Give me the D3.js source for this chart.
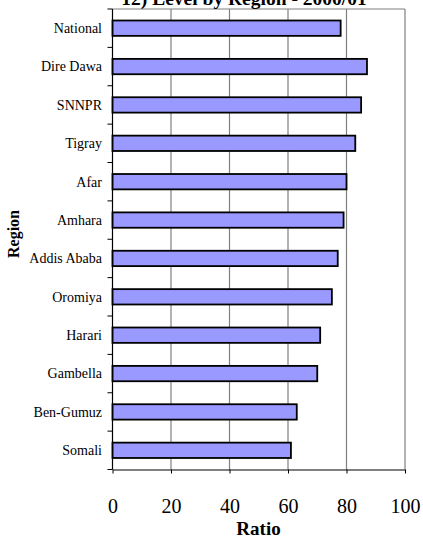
<!DOCTYPE html>
<html>
<head>
<meta charset="utf-8">
<script src="https://cdn.jsdelivr.net/npm/d3@7"></script>
<style>
  html, body { margin: 0; padding: 0; background: #fff; }
  svg { display: block; }
  svg text { font-family: "Liberation Serif", "Times New Roman", serif; }
</style>
</head>
<body>
<svg id="chart" width="423" height="538"></svg>
<script>
// Regions, top to bottom
const regions = ["National", "Dire Dawa", "SNNPR", "Tigray", "Afar", "Amhara",
  "Addis Ababa", "Oromiya", "Harari", "Gambella", "Ben-Gumuz", "Somali"];
// Ratio per region
const ratios = [78, 87, 85, 83, 80, 79, 77, 75, 71, 70, 63, 61];
// Value axis ticks
const xTicks = [0, 20, 40, 60, 80, 100];

const title = "12) Level by Region -  2000/01";
const serif = "Liberation Serif, Times New Roman, serif";

const svg = d3.select("#chart");
const m = { left: 112.5, right: 405, top: 9, bottom: 469.5 };

const x = d3.scaleLinear().domain([0, 100]).range([m.left, m.right]);
const y = d3.scaleBand().domain(regions).range([m.top, m.bottom]).paddingInner(0.6).paddingOuter(0.3);
const band = d3.scaleBand().domain(regions).range([m.top, m.bottom]);

// Vertical gridlines
svg.append("g").selectAll("line").data(xTicks.slice(1)).join("line")
  .attr("x1", d => x(d)).attr("x2", d => x(d))
  .attr("y1", m.top).attr("y2", m.bottom)
  .attr("stroke", "#808080").attr("stroke-width", 1.2);

// Top border
svg.append("line").attr("x1", m.left).attr("x2", m.right)
  .attr("y1", m.top).attr("y2", m.top)
  .attr("stroke", "#808080").attr("stroke-width", 1.2);

// Bars
svg.append("g").selectAll("rect").data(regions).join("rect")
  .attr("x", x(0))
  .attr("y", d => y(d))
  .attr("width", (d, i) => x(ratios[i]) - x(0))
  .attr("height", y.bandwidth())
  .attr("fill", "#9999ff")
  .attr("stroke", "#000")
  .attr("stroke-width", 1.8);

// Category axis with ticks at band boundaries
const yAxis = svg.append("g");
yAxis.append("line").attr("x1", m.left).attr("x2", m.left)
  .attr("y1", m.top).attr("y2", m.bottom).attr("stroke", "#000").attr("stroke-width", 1.2);
const boundaries = regions.map(r => band(r)).concat([m.bottom]);
yAxis.selectAll("line.tk").data(boundaries).join("line").attr("class", "tk")
  .attr("x1", m.left - 5).attr("x2", m.left)
  .attr("y1", d => d).attr("y2", d => d)
  .attr("stroke", "#000").attr("stroke-width", 1);
yAxis.selectAll("text").data(regions).join("text")
  .attr("x", m.left - 10.5)
  .attr("y", d => band(d) + band.bandwidth() / 2)
  .attr("dy", "0.35em")
  .attr("text-anchor", "end")
  .attr("font-family", serif)
  .attr("font-size", 14)
  .attr("fill", "#000")
  .text(d => d);

// Value axis
const xAxis = svg.append("g").attr("transform", `translate(0,${m.bottom})`)
  .call(d3.axisBottom(x).tickValues(xTicks).tickSize(4).tickPadding(25).tickSizeOuter(0));
xAxis.select(".domain").attr("stroke", "#000").attr("stroke-width", 1.2);
xAxis.selectAll(".tick line").attr("stroke", "#000");
xAxis.selectAll(".tick text")
  .attr("font-family", serif)
  .attr("font-size", 20).attr("fill", "#000");

// Axis titles
svg.append("text").attr("x", 258.5).attr("y", 535)
  .attr("text-anchor", "middle").attr("font-family", serif)
  .attr("font-size", 19).attr("font-weight", "bold")
  .text("Ratio");
svg.append("text")
  .attr("transform", "translate(19,234) rotate(-90)")
  .attr("text-anchor", "middle").attr("font-family", serif)
  .attr("font-size", 16).attr("font-weight", "bold")
  .text("Region");

// Chart title, sitting on the top edge of the frame
svg.append("text").attr("x", 244).attr("y", 5)
  .attr("text-anchor", "middle").attr("font-family", serif)
  .attr("font-size", 19.5).attr("font-weight", "bold")
  .text(title);
</script>
</body>
</html>
